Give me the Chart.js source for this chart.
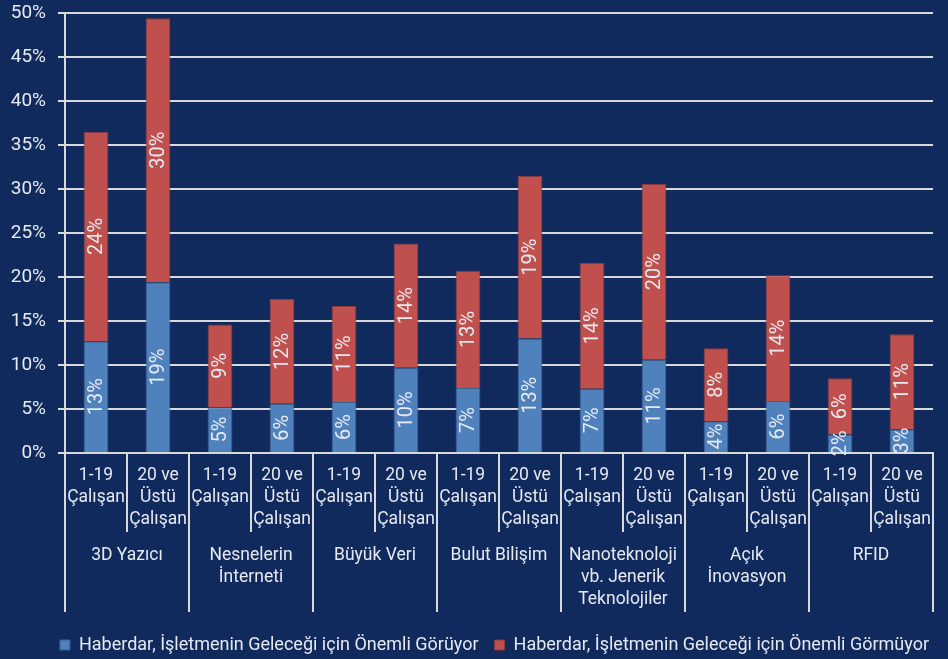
<!DOCTYPE html>
<html>
<head>
<meta charset="utf-8">
<script src="https://cdn.jsdelivr.net/npm/chart.js@4.4.1/dist/chart.umd.min.js"></script>
<style>
    html, body { margin: 0; padding: 0; background: #112a5e; }
    #wrap { width: 948px; height: 659px; }
</style>
</head>
<body>
<div id="wrap"><canvas id="chart"></canvas></div>
<script>
// Data
const groupNames = [
    ['3D Yazıcı'],
    ['Nesnelerin', 'İnterneti'],
    ['Büyük Veri'],
    ['Bulut Bilişim'],
    ['Nanoteknoloji', 'vb. Jenerik', 'Teknolojiler'],
    ['Açık', 'İnovasyon'],
    ['RFID']
];
const sizeNames = [
    ['1-19', 'Çalışan'],
    ['20 ve', 'Üstü', 'Çalışan']
];
const seriesNames = [
    'Haberdar, İşletmenin Geleceği için Önemli Görüyor',
    'Haberdar, İşletmenin Geleceği için Önemli Görmüyor'
];
const important = [12.7, 19.4, 5.2, 5.6, 5.8, 9.7, 7.4, 13.0, 7.3, 10.6, 3.6, 5.9, 2.1, 2.7];
const notImportant = [23.8, 30.0, 9.4, 11.9, 10.9, 14.1, 13.3, 18.5, 14.3, 20.0, 8.3, 14.3, 6.4, 10.8];
const yTicks = [0, 5, 10, 15, 20, 25, 30, 35, 40, 45, 50];

const FONT = 'Roboto, "DejaVu Sans", sans-serif';
const TEXT = '#e6e9f0';
const LINE = '#d9d9d9';

// one category per bar, group x size
const categories = [];
groupNames.forEach(g => sizeNames.forEach(s => categories.push(g.join(' ') + ' ' + s.join(' '))));

// draws the rotated value labels inside each bar segment
const segmentLabels = {
    id: 'segmentLabels',
    afterDatasetsDraw(chart) {
        const ctx = chart.ctx;
        ctx.save();
        ctx.fillStyle = TEXT;
        ctx.font = '20px ' + FONT;
        ctx.textAlign = 'center';
        ctx.textBaseline = 'middle';
        chart.data.datasets.forEach((ds, di) => {
            chart.getDatasetMeta(di).data.forEach((bar, i) => {
                const mid = (bar.y + bar.base) / 2;
                ctx.save();
                ctx.translate(bar.x, mid);
                ctx.rotate(-Math.PI / 2);
                ctx.fillText(Math.round(ds.data[i]) + '%', 0, 1);
                ctx.restore();
            });
        });
        ctx.restore();
    }
};

// two level category axis with separators
const twoLevelAxis = {
    id: 'twoLevelAxis',
    afterLayout(chart) {
        // legend sits a little right of centre in the original
        chart.legend.left += 12;
        chart.legend.right += 12;
    },
    afterDraw(chart) {
        const ctx = chart.ctx;
        const x = chart.scales.x;
        const area = chart.chartArea;
        const slot = (x.right - x.left) / categories.length;
        ctx.save();
        ctx.strokeStyle = LINE;
        ctx.lineWidth = 2;
        for (let i = 0; i <= categories.length; i++) {
            const px = Math.round(x.left + i * slot);
            const end = (i % sizeNames.length === 0) ? area.bottom + 159 : area.bottom + 79;
            ctx.beginPath();
            ctx.moveTo(px, area.bottom);
            ctx.lineTo(px, end);
            ctx.stroke();
        }
        ctx.fillStyle = TEXT;
        ctx.font = '17.5px ' + FONT;
        ctx.textAlign = 'center';
        ctx.textBaseline = 'middle';
        categories.forEach((c, i) => {
            const cx = x.getPixelForValue(i);
            sizeNames[i % sizeNames.length].forEach((line, li) => {
                ctx.fillText(line, cx, area.bottom + 23 + li * 22);
            });
        });
        groupNames.forEach((g, gi) => {
            const cx = x.left + (gi * sizeNames.length + sizeNames.length / 2) * slot;
            g.forEach((line, li) => {
                ctx.fillText(line, cx, area.bottom + 103 + li * 22);
            });
        });
        ctx.restore();
    }
};

const ctx = document.getElementById('chart').getContext('2d');
new Chart(ctx, {
    type: 'bar',
    data: {
        labels: categories,
        datasets: [
            {
                label: seriesNames[0],
                data: important,
                backgroundColor: '#4f81bd',
                borderColor: '#3a6291',
                borderWidth: 1
            },
            {
                label: seriesNames[1],
                data: notImportant,
                backgroundColor: '#c0504d',
                borderColor: '#8f3b39',
                borderWidth: 1
            }
        ]
    },
    options: {
        responsive: true,
        maintainAspectRatio: false,
        animation: false,
        datasets: {
            bar: { categoryPercentage: 1, barPercentage: 0.4 }
        },
        layout: { padding: { top: 13, right: 15, left: 0, bottom: -5 } },
        scales: {
            x: {
                stacked: true,
                grid: { display: false },
                border: { display: true, color: LINE, width: 2 },
                ticks: { display: false },
                afterFit: scale => { scale.height = 167; }
            },
            y: {
                stacked: true,
                min: 0,
                max: 50,
                afterFit: scale => {
                    scale.width = 65;
                    scale.paddingTop = 0;
                    scale.paddingBottom = 0;
                },
                afterBuildTicks: scale => { scale.ticks = yTicks.map(v => ({ value: v })); },
                grid: { color: LINE, lineWidth: 2, tickLength: 7 },
                border: { display: true, color: LINE, width: 2 },
                ticks: {
                    color: TEXT,
                    font: { size: 19, family: FONT },
                    padding: 12,
                    callback: v => v + '%'
                }
            }
        },
        plugins: {
            legend: {
                position: 'bottom',
                align: 'end',
                labels: {
                    color: TEXT,
                    font: { size: 18, family: FONT },
                    boxWidth: 10,
                    boxHeight: 10,
                    padding: 16
                }
            },
            tooltip: { enabled: false }
        }
    },
    plugins: [segmentLabels, twoLevelAxis]
});
</script>
</body>
</html>
